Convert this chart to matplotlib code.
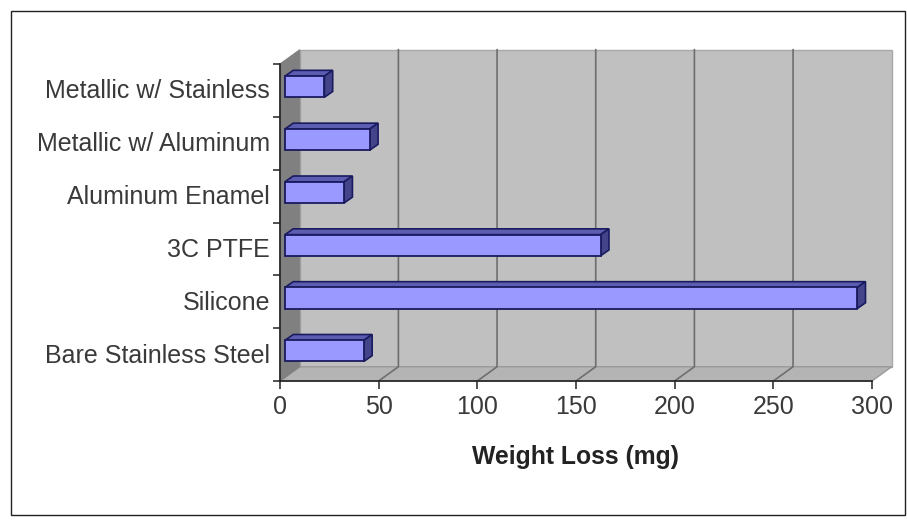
import matplotlib
matplotlib.use("Agg")
import matplotlib.pyplot as plt
from matplotlib.patches import Polygon, Rectangle

plt.rcParams["font.family"] = ["Liberation Sans", "DejaVu Sans"]

categories = ["Bare Stainless Steel", "Silicone", "3C PTFE", "Aluminum Enamel",
              "Metallic w/ Aluminum", "Metallic w/ Stainless"]
weight_loss = [40, 290, 160, 30, 43, 20]
x_ticks = [0, 50, 100, 150, 200, 250, 300]

W, H = 907, 528
fig = plt.figure(figsize=(W / 100, H / 100), dpi=100, facecolor="white")

# outer chart border
fig.patches.append(Rectangle((11 / W, 1 - 515 / H), 894 / W, 504 / H, transform=fig.transFigure,
                             fill=False, edgecolor="#222222", linewidth=1.0))

ax = fig.add_axes([280 / W, 1 - 381 / H, 592 / W, 317 / H])
ax.set_xlim(0, 300)
ax.set_ylim(0, 6)
ax.patch.set_visible(False)
for s in ["top", "right"]:
    ax.spines[s].set_visible(False)
for s in ["left", "bottom"]:
    ax.spines[s].set_color("#222222")
    ax.spines[s].set_linewidth(1.2)
    ax.spines[s].set_zorder(6)

# depth of the fake 3d box, in data units
dx = 10.0
dy = 0.27

# back wall, floor, side wall
ax.add_patch(Polygon([(dx, dy), (300 + dx, dy), (300 + dx, 6 + dy), (dx, 6 + dy)],
                     facecolor="#c0c0c0", edgecolor="#a8a8a8", lw=1, clip_on=False, zorder=1))
ax.add_patch(Polygon([(0, 0), (300, 0), (300 + dx, dy), (dx, dy)],
                     facecolor="#b4b4b4", edgecolor="#9a9a9a", lw=1, clip_on=False, zorder=1))
ax.add_patch(Polygon([(0, 0), (dx, dy), (dx, 6 + dy), (0, 6)],
                     facecolor="#808080", edgecolor="#808080", lw=0.8, clip_on=False, zorder=1))

# gridlines on the back wall and across the floor
for t in x_ticks[1:-1]:
    ax.plot([t, t + dx, t + dx], [0, dy, 6 + dy], color="#6e6e6e", lw=1.2, clip_on=False, zorder=2)

# bars: front face, top face, side face
off_x = 2.5
off_y = 0.07
bar_h = 0.4
bar_dx = 4.2
bar_dy = 0.11
for i, v in enumerate(weight_loss):
    y0 = i + 0.5 + off_y - bar_h / 2
    y1 = y0 + bar_h
    x0 = off_x
    x1 = off_x + v
    ax.add_patch(Polygon([(x0, y1), (x1, y1), (x1 + bar_dx, y1 + bar_dy), (x0 + bar_dx, y1 + bar_dy)],
                         facecolor="#5c5cb0", edgecolor="#1a1a60", lw=1.2, clip_on=False, zorder=3))
    ax.add_patch(Polygon([(x1, y0), (x1 + bar_dx, y0 + bar_dy), (x1 + bar_dx, y1 + bar_dy), (x1, y1)],
                         facecolor="#44448a", edgecolor="#1a1a60", lw=1.2, clip_on=False, zorder=3))
    ax.add_patch(Rectangle((x0, y0), v, bar_h, facecolor="#9999ff", edgecolor="#1a1a60",
                           lw=1.3, clip_on=False, zorder=4))

ax.set_xticks(x_ticks)
ax.set_yticks(range(7))
ax.set_yticklabels([])
for i, c in enumerate(categories):
    ax.text(-5, i + 0.48, c, ha="right", va="center", fontsize=18, color="#3a3a3a")
ax.tick_params(axis="x", length=6, width=1.1, color="#222222", labelsize=18,
               labelcolor="#3a3a3a", pad=4)
ax.tick_params(axis="y", length=5, width=1.1, color="#222222")
ax.set_xlabel("Weight Loss (mg)", fontsize=17.8, fontweight="bold", color="#222222", labelpad=19)

fig.savefig("out.png", dpi=100)
